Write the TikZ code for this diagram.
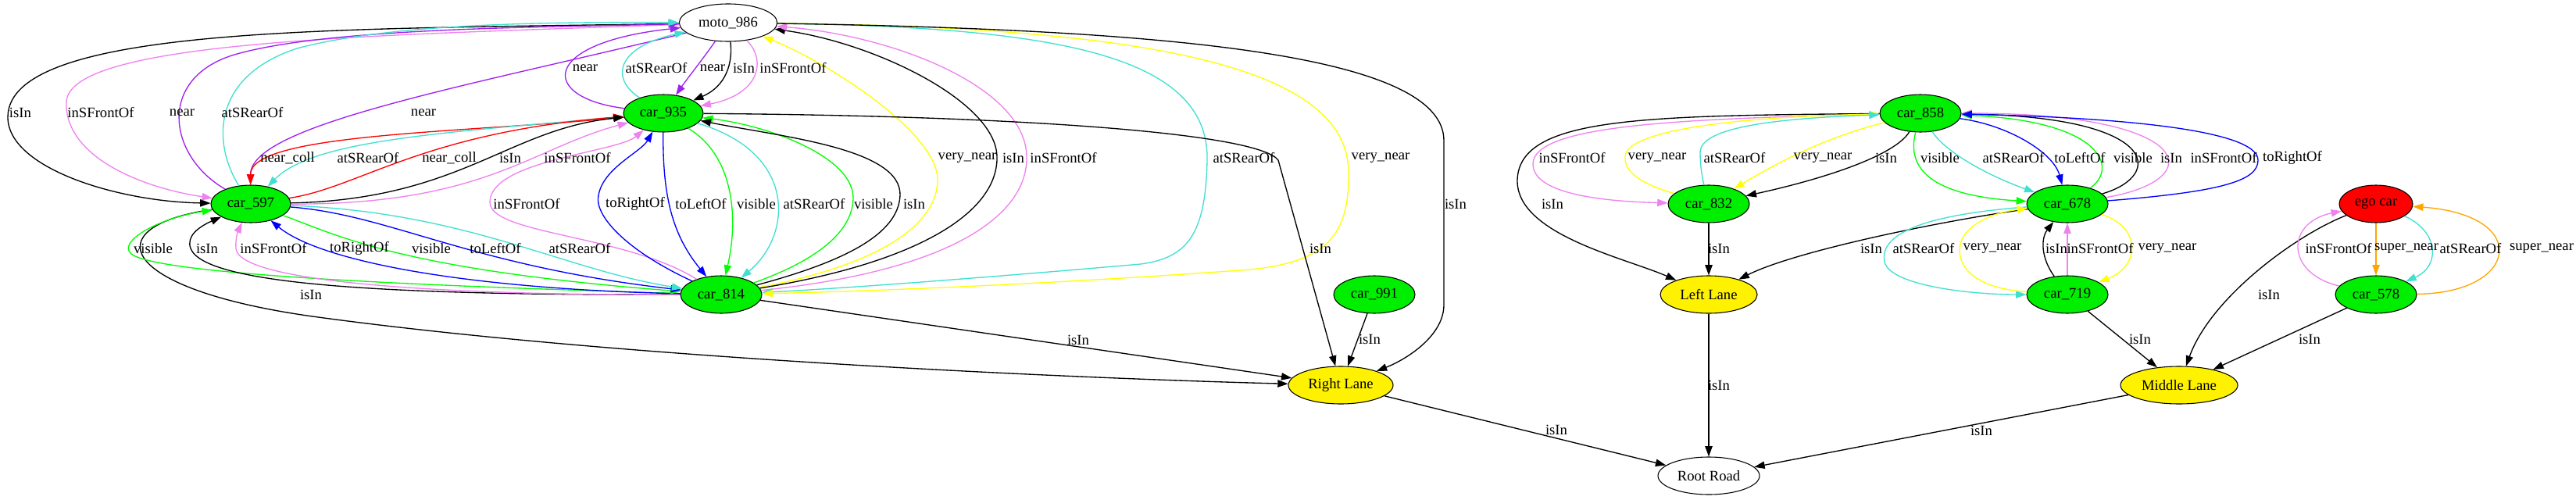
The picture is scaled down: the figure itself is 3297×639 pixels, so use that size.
\documentclass[tikz,border=0pt]{standalone}
\usepackage{fontspec}
\setmainfont{Liberation Serif}
\usetikzlibrary{shapes.geometric,arrows.meta}
\definecolor{ngreen}{RGB}{0,238,0}
\definecolor{egreen}{RGB}{0,255,0}
\definecolor{eviolet}{RGB}{238,130,238}
\definecolor{epurple}{RGB}{160,32,240}
\definecolor{eturq}{RGB}{64,224,208}
\definecolor{eyellow}{RGB}{255,255,0}
\definecolor{eorange}{RGB}{255,165,0}
\definecolor{eblue}{RGB}{0,0,255}
\definecolor{ered}{RGB}{255,0,0}
\begin{document}
\begin{tikzpicture}[x=0.75pt,y=-0.75pt,
  nd/.style={ellipse,draw=black,line width=0.8pt,inner sep=1pt,minimum height=36pt,font=\fontsize{14}{16}\selectfont},
  carn/.style={nd,fill=ngreen,minimum width=78pt},
  lanen/.style={nd,fill=yellow},
  e/.style={line width=1pt,-{Triangle[length=10pt,width=7pt]}},
  lbl/.style={font=\fontsize{14}{16}\selectfont,inner sep=0pt}]
\useasboundingbox (0,0) rectangle (3297,639);

% ---------- nodes ----------
\node[nd,fill=white,minimum width=94pt] (moto) at (932,29) {moto\_986};
\node[carn,minimum width=76.5pt] (c935) at (849,145) {car\_935};
\node[carn,minimum width=76.5pt] (c597) at (321,261) {car\_597};
\node[carn] (c814) at (923,377) {car\_814};
\node[carn] (c991) at (1759,377) {car\_991};
\node[lanen,minimum width=100.5pt] (RL) at (1716,493) {Right Lane};
\node[nd,fill=white,minimum width=97.5pt] (RR) at (2187,609) {Root Road};
\node[lanen,minimum width=93pt] (LL) at (2187,377) {Left Lane};
\node[carn] (c858) at (2458,145) {car\_858};
\node[carn] (c832) at (2187,261) {car\_832};
\node[carn] (c678) at (2646,261) {car\_678};
\node[nd,fill=red,minimum width=70.5pt] (ego) at (3041,261) {ego car};
\node[carn] (c719) at (2646,377) {car\_719};
\node[carn] (c578) at (3041,377) {car\_578};
\node[lanen,minimum width=112.5pt] (ML) at (2789,493) {Middle Lane};

% ---------- moto <-> car_597 ----------
\draw[e,black] (moto) .. controls (450,38) and (10,30) .. (10,150) .. controls (10,215) and (150,258) .. (c597);
\draw[e,eviolet] (moto) .. controls (500,45) and (90,50) .. (85,130) .. controls (82,200) and (180,240) .. (c597);
\draw[e,epurple] (c597) .. controls (215,200) and (200,100) .. (300,70) .. controls (420,35) and (700,35) .. (moto);
\draw[e,eturq] (c597) .. controls (275,190) and (265,100) .. (380,62) .. controls (500,30) and (700,28) .. (moto);
\draw[e,epurple] (moto) .. controls (600,110) and (320,160) .. (c597);

% ---------- moto <-> car_935 ----------
\draw[e,epurple] (c935) .. controls (690,125) and (690,55) .. (moto);
\draw[e,eturq] (c935) .. controls (780,100) and (790,60) .. (moto);
\draw[e,epurple] (moto) .. controls (900,75) and (880,100) .. (c935);
\draw[e,black] (moto) .. controls (938,80) and (930,110) .. (c935);
\draw[e,eviolet] (moto) .. controls (980,75) and (975,120) .. (c935);

% ---------- car_935 <-> car_597 ----------
\draw[e,ered] (c935) .. controls (600,170) and (320,170) .. (c597);
\draw[e,eturq] (c935) .. controls (560,170) and (400,180) .. (c597);
\draw[e,ered] (c597) .. controls (460,240) and (540,170) .. (c935);
\draw[e,black] (c597) .. controls (590,255) and (650,165) .. (c935);
\draw[e,eviolet] (c597) .. controls (620,262) and (680,190) .. (c935);

% ---------- car_814 <-> car_935 ----------
\draw[e,eviolet] (c814) .. controls (800,300) and (625,300) .. (627,258) .. controls (629,205) and (790,195) .. (c935);
\draw[e,eblue] (c814) .. controls (800,320) and (760,275) .. (766,250) .. controls (772,215) and (820,195) .. (c935);
\draw[e,eblue] (c935) .. controls (848,250) and (860,300) .. (c814);
\draw[e,egreen] (c935) .. controls (940,200) and (945,280) .. (c814);
\draw[e,eturq] (c935) .. controls (1020,195) and (1015,300) .. (c814);
\draw[e,egreen] (c814) .. controls (1040,335) and (1090,300) .. (1092,255) .. controls (1094,200) and (980,160) .. (c935);
\draw[e,black] (c814) .. controls (1080,335) and (1150,300) .. (1152,250) .. controls (1154,190) and (1000,175) .. (c935);

% ---------- car_814 <-> moto ----------
\draw[e,eyellow] (c814) .. controls (1120,340) and (1200,290) .. (1200,230) .. controls (1200,170) and (1060,80) .. (moto);
\draw[e,black] (c814) .. controls (1180,335) and (1278,270) .. (1276,200) .. controls (1274,130) and (1120,55) .. (moto);
\draw[e,eviolet] (c814) .. controls (1230,345) and (1316,270) .. (1314,200) .. controls (1312,110) and (1140,45) .. (moto);
\draw[e,eturq] (moto) .. controls (1350,35) and (1548,70) .. (1545,205) .. controls (1543,300) and (1520,330) .. (1460,338) .. controls (1300,352) and (1100,368) .. (c814);
\draw[e,eyellow] (moto) .. controls (1450,35) and (1725,80) .. (1726,220) .. controls (1727,300) and (1700,335) .. (1600,345) .. controls (1400,360) and (1150,372) .. (c814);

% ---------- to Right Lane ----------
\draw[e,black] (moto) .. controls (1500,38) and (1848,70) .. (1848,180) -- (1848,390) .. controls (1848,430) and (1800,460) .. (RL);
\draw[e,black] (c935) .. controls (1300,148) and (1610,170) .. (1636,205) -- (RL);
\draw[e,black] (c597) .. controls (120,290) and (150,370) .. (400,405) .. controls (800,460) and (1400,485) .. (RL);
\draw[e,black] (c814) -- (RL);
\draw[e,black] (c991) -- (RL);

% ---------- car_597 <-> car_814 ----------
\draw[e,egreen] (c814) .. controls (500,365) and (200,350) .. (168,325) .. controls (150,310) and (200,280) .. (c597);
\draw[e,black] (c814) .. controls (500,378) and (262,365) .. (244,318) .. controls (238,302) and (255,290) .. (c597);
\draw[e,eviolet] (c814) .. controls (550,378) and (305,360) .. (302,318) .. controls (301,305) and (305,295) .. (c597);
\draw[e,eblue] (c814) .. controls (600,370) and (410,335) .. (c597);
\draw[e,egreen] (c597) .. controls (430,300) and (510,345) .. (c814);
\draw[e,eblue] (c597) .. controls (500,275) and (600,340) .. (c814);
\draw[e,eturq] (c597) .. controls (600,272) and (720,345) .. (c814);

% ---------- right cluster ----------
\draw[e,eviolet] (c858) .. controls (2150,152) and (1962,160) .. (1962,210) .. controls (1962,250) and (2060,258) .. (c832);
\draw[e,black] (c858) .. controls (2100,148) and (1945,150) .. (1942,230) .. controls (1940,300) and (2080,330) .. (LL);
\draw[e,eyellow] (c832) .. controls (2100,235) and (2078,220) .. (2080,200) .. controls (2082,170) and (2200,150) .. (c858);
\draw[e,eturq] (c832) .. controls (2178,225) and (2176,210) .. (2176,195) .. controls (2176,165) and (2260,152) .. (c858);
\draw[e,eyellow] (c858) .. controls (2340,175) and (2280,205) .. (c832);
\draw[e,black] (c858) .. controls (2425,200) and (2330,230) .. (c832);
\draw[e,egreen] (c858) .. controls (2440,215) and (2470,250) .. (c678);
\draw[e,eturq] (c858) .. controls (2490,195) and (2545,225) .. (c678);
\draw[e,eblue] (c858) .. controls (2570,160) and (2628,195) .. (c678);
\draw[e,egreen] (c678) .. controls (2712,215) and (2690,155) .. (c858);
\draw[e,black] (c678) .. controls (2770,225) and (2765,150) .. (c858);
\draw[e,eviolet] (c678) .. controls (2830,230) and (2810,145) .. (c858);
\draw[e,eblue] (c678) .. controls (2850,245) and (2890,230) .. (2890,205) .. controls (2890,165) and (2700,150) .. (c858);
\draw[e,black] (c678) .. controls (2500,280) and (2300,320) .. (LL);
\draw[e,black] (c832) -- (LL);
\draw[e,eturq] (c678) .. controls (2460,275) and (2405,300) .. (2412,335) .. controls (2418,365) and (2520,377) .. (c719);
\draw[e,eyellow] (c719) .. controls (2540,370) and (2508,350) .. (2508,320) .. controls (2508,290) and (2550,272) .. (c678);
\draw[e,black] (c719) .. controls (2612,330) and (2612,305) .. (c678);
\draw[e,eviolet] (c719) -- (c678);
\draw[e,eyellow] (c678) .. controls (2740,290) and (2740,340) .. (c719);
\draw[e,black] (c719) -- (ML);
\draw[e,black] (ego) .. controls (2940,300) and (2830,380) .. (ML);
\draw[e,black] (c578) -- (ML);
\draw[e,eviolet] (c578) .. controls (2925,350) and (2925,285) .. (ego);
\draw[e,eorange] (ego) -- (c578);
\draw[e,eturq] (ego) .. controls (3120,295) and (3125,340) .. (c578);
\draw[e,eorange] (c578) .. controls (3225,375) and (3240,275) .. (ego);
\draw[e,black] (LL) -- (RR);
\draw[e,black] (RL) -- (RR);
\draw[e,black] (ML) -- (RR);

% ---------- labels ----------
\node[lbl] (a01) at (749,87) {near};
\node[lbl] (a02) at (840,87) {atSRearOf};
\node[lbl] (a03) at (912,87) {near};
\node[lbl] (a04) at (952,87) {isIn};
\node[lbl] (a05) at (1015,87) {inSFrontOf};
\node[lbl] (a06) at (26,144) {isIn};
\node[lbl] (a07) at (129,144) {inSFrontOf};
\node[lbl] (a08) at (233,144) {near};
\node[lbl] (a09) at (323,144) {atSRearOf};
\node[lbl] (a10) at (542,144) {near};
\node[lbl] (a11) at (368,202) {near\_coll};
\node[lbl] (a12) at (471,202) {atSRearOf};
\node[lbl] (a13) at (575,202) {near\_coll};
\node[lbl] (a14) at (653,202) {isIn};
\node[lbl] (a15) at (739,202) {inSFrontOf};
\node[lbl] (a16) at (1238,202) {very\_near};
\node[lbl] (a17) at (1297,202) {isIn};
\node[lbl] (a18) at (1361,202) {inSFrontOf};
\node[lbl] (a19) at (1592,202) {atSRearOf};
\node[lbl] (a20) at (1767,202) {very\_near};
\node[lbl] (a21) at (674,261) {inSFrontOf};
\node[lbl] (a22) at (813,261) {toRightOf};
\node[lbl] (a23) at (897,261) {toLeftOf};
\node[lbl] (a24) at (968,261) {visible};
\node[lbl] (a25) at (1042,261) {atSRearOf};
\node[lbl] (a26) at (1118,261) {visible};
\node[lbl] (a27) at (1170,261) {isIn};
\node[lbl] (a28) at (1863,261) {isIn};
\node[lbl] (a29) at (196,318) {visible};
\node[lbl] (a30) at (265,318) {isIn};
\node[lbl] (a31) at (350,318) {inSFrontOf};
\node[lbl] (a32) at (460,318) {toRightOf};
\node[lbl] (a33) at (552,318) {visible};
\node[lbl] (a34) at (634,318) {toLeftOf};
\node[lbl] (a35) at (742,318) {atSRearOf};
\node[lbl] (a36) at (1690,318) {isIn};
\node[lbl] (a37) at (398,377) {isIn};
\node[lbl] (a38) at (1380,435) {isIn};
\node[lbl] (a39) at (1753,434) {isIn};
\node[lbl] (a40) at (1992,550) {isIn};
\node[lbl] (b01) at (2012,202) {inSFrontOf};
\node[lbl] (b02) at (2121,202) {very\_near};
\node[lbl] (b03) at (2220,202) {atSRearOf};
\node[lbl] (b04) at (2333,202) {very\_near};
\node[lbl] (b05) at (2414,202) {isIn};
\node[lbl] (b06) at (2483,202) {visible};
\node[lbl] (b07) at (2577,202) {atSRearOf};
\node[lbl] (b08) at (2662,202) {toLeftOf};
\node[lbl] (b09) at (2730,202) {visible};
\node[lbl] (b10) at (2779,202) {isIn};
\node[lbl] (b11) at (2846,202) {inSFrontOf};
\node[lbl] (b12) at (2934,202) {toRightOf};
\node[lbl] (b13) at (1987,261) {isIn};
\node[lbl] (b14) at (2200,318) {isIn};
\node[lbl] (b15) at (2395,318) {isIn};
\node[lbl] (b16) at (2462,318) {atSRearOf};
\node[lbl] (b17) at (2550,318) {very\_near};
\node[lbl] (b18) at (2632,318) {isIn};
\node[lbl] (b19) at (2688,318) {inSFrontOf};
\node[lbl] (b20) at (2774,318) {very\_near};
\node[lbl] (b21) at (2993,318) {inSFrontOf};
\node[lbl] (b22) at (3080,318) {super\_near};
\node[lbl] (b23) at (3162,318) {atSRearOf};
\node[lbl] (b24) at (3253,318) {super\_near};
\node[lbl] (b25) at (2200,493) {isIn};
\node[lbl] (b26) at (2536,551) {isIn};
\node[lbl] (b27) at (2739,434) {isIn};
\node[lbl] (b28) at (2904,377) {isIn};
\node[lbl] (b29) at (2956,434) {isIn};
\end{tikzpicture}
\end{document}
